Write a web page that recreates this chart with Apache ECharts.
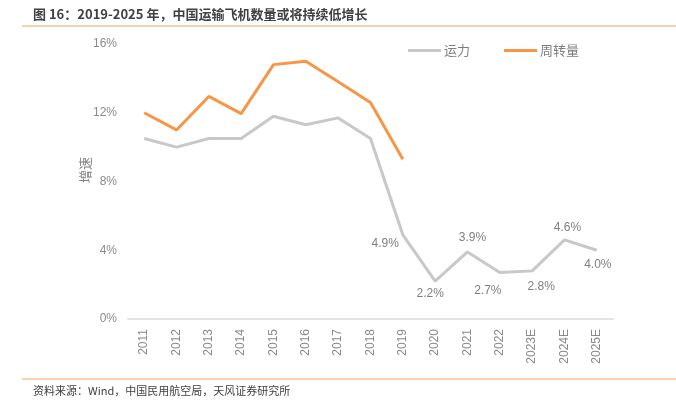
<!DOCTYPE html>
<html>
<head>
<meta charset="utf-8">
<script src="https://cdn.jsdelivr.net/npm/echarts@6/dist/echarts.min.js"></script>
<style>
  html, body { margin: 0; padding: 0; background: #fff; }
  #chart { width: 676px; height: 410px; }
</style>
</head>
<body>
<div id="chart"></div>
<script>
// 年份
const years = ['2011', '2012', '2013', '2014', '2015', '2016', '2017', '2018',
  '2019', '2020', '2021', '2022', '2023E', '2024E', '2025E'];
// 运力增速 (%)
const capacity = [10.5, 10.0, 10.5, 10.5, 11.8, 11.3, 11.7, 10.5,
  4.9, 2.2, 3.9, 2.7, 2.8, 4.6, 4.0];
// 周转量增速 (%)，只到2019
const turnover = [12.0, 11.0, 12.95, 11.95, 14.8, 15.0, 13.8, 12.6, 9.3];
// 标签位置 (2019 起)
const labelPos = ['left', 'bottom', 'top', 'bottom', 'bottom', 'top', 'bottom'];
const labelOffset = [[2, 9], [-5, 0], [5, -2], [-12, 6], [9, 4], [3, 0], [1, 2]];

const cjk = '"Noto Sans CJK SC", "Liberation Sans", sans-serif';
const myChart = echarts.init(document.getElementById('chart'));

const capData = capacity.map((v, i) => {
  const k = i - 8;
  if (k < 0) return v;
  return {
    value: v,
    label: {
      show: true,
      position: labelPos[k],
      offset: labelOffset[k],
      distance: 6,
      formatter: (p) => p.value.toFixed(1) + '%',
      color: '#7f7f7f',
      fontSize: 12,
      fontFamily: 'Liberation Sans, sans-serif'
    }
  };
});

myChart.setOption({
  animation: false,
  title: {
    text: '图 16：2019-2025 年，中国运输飞机数量或将持续低增长',
    left: 33,
    top: 8,
    padding: 0,
    textStyle: { fontSize: 13, fontWeight: 'bold', color: '#404040', fontFamily: cjk }
  },
  graphic: [
    { type: 'line', shape: { x1: 22, y1: 26, x2: 676, y2: 26 }, style: { stroke: '#f4a460', lineWidth: 1 } },
    { type: 'line', shape: { x1: 22, y1: 379, x2: 676, y2: 379 }, style: { stroke: '#f4a460', lineWidth: 1 } },
    {
      type: 'text', left: 33, top: 385,
      style: { text: '资料来源：Wind，中国民用航空局，天风证券研究所', fontSize: 11, fill: '#404040', fontFamily: cjk }
    },
    // 纵轴名称
    {
      type: 'text', x: 85, y: 170, rotation: Math.PI / 2,
      style: { text: '增速', fontSize: 13, fill: '#7f7f7f', fontFamily: cjk, align: 'center', verticalAlign: 'middle' }
    }
  ],
  legend: {
    top: 39,
    left: 403,
    itemGap: 34,
    itemWidth: 33,
    itemHeight: 3,
    icon: 'rect',
    textStyle: { fontSize: 13, color: '#7f7f7f', fontFamily: cjk, padding: [0, 0, 0, -2] },
    data: ['运力', '周转量']
  },
  grid: { left: 128, right: 63, top: 44, bottom: 91 },
  xAxis: {
    type: 'category',
    data: years,
    boundaryGap: true,
    axisLine: { lineStyle: { color: '#e3e3e3', width: 2 } },
    axisTick: { show: false },
    axisLabel: { rotate: 90, color: '#8a8a8a', fontSize: 12, margin: 10, fontFamily: 'Liberation Sans, sans-serif' }
  },
  yAxis: {
    type: 'value',
    min: 0,
    max: 16,
    interval: 4,
    axisLine: { show: false },
    axisTick: { show: false },
    splitLine: { show: false },
    axisLabel: { formatter: '{value}%', color: '#8a8a8a', fontSize: 12, margin: 11, fontFamily: 'Liberation Sans, sans-serif' }
  },
  series: [
    {
      name: '运力',
      type: 'line',
      data: capData,
      symbol: 'circle',
      symbolSize: 0,
      showSymbol: true,
      lineStyle: { color: '#c8c8c8', width: 3 },
      itemStyle: { color: '#c8c8c8' }
    },
    {
      name: '周转量',
      type: 'line',
      data: turnover,
      symbol: 'none',
      lineStyle: { color: '#f79646', width: 3 },
      itemStyle: { color: '#f79646' }
    }
  ]
});
</script>
</body>
</html>
